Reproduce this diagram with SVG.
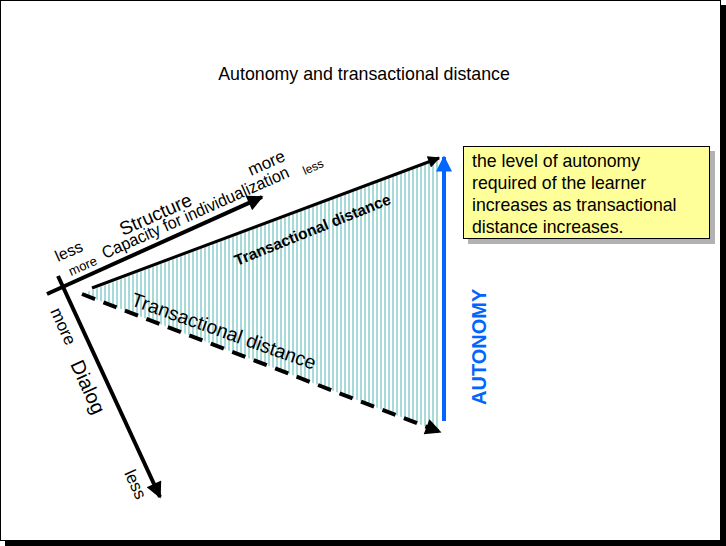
<svg xmlns="http://www.w3.org/2000/svg" width="726" height="546" viewBox="0 0 726 546">
<style>
text{font-family:"Liberation Sans",Arial,sans-serif;fill:#000}
.ax{stroke:#000;stroke-width:4;fill:none}
</style>
<defs>
<pattern id="hatch" patternUnits="userSpaceOnUse" width="4" height="4">
<rect x="0" y="0" width="2" height="4" fill="#A8DADA"/>
</pattern>
<marker id="ah" viewBox="0 0 10 10" refX="9" refY="5" markerWidth="4.5" markerHeight="4" orient="auto" markerUnits="strokeWidth">
<path d="M0,0 L10,5 L0,10 Z" fill="#000"/>
</marker>
<marker id="ahb" viewBox="0 0 10 10" refX="9" refY="5" markerWidth="5" markerHeight="4" orient="auto" markerUnits="strokeWidth">
<path d="M0,0 L10,5 L0,10 Z" fill="#0066FF"/>
</marker>
</defs>
<rect x="5" y="5" width="721" height="541" fill="#000"/>
<rect x="0.5" y="0.5" width="720" height="540" fill="#fff" stroke="#000" stroke-width="1"/>
<text x="364" y="80" font-size="17.8" text-anchor="middle">Autonomy and transactional distance</text>
<g id="triangle">
<polygon points="82,294 440,158 440,432" fill="url(#hatch)"/>
</g>
<g id="connectors">
<line class="ax" x1="47" y1="294" x2="262" y2="197" marker-end="url(#ah)"/>
<line class="ax" x1="58" y1="276" x2="160" y2="497" marker-end="url(#ah)"/>
<line x1="92" y1="288" x2="439" y2="158" stroke="#000" stroke-width="3" marker-end="url(#ah)"/>
<line x1="82" y1="294" x2="440" y2="432" stroke="#000" stroke-width="4" stroke-dasharray="14,9" marker-end="url(#ah)"/>
<line x1="444" y1="421" x2="444" y2="157" stroke="#0066FF" stroke-width="4" marker-end="url(#ahb)"/>
</g>
<g id="structure-labels">
<text transform="translate(58,262) rotate(-24)" font-size="16">less</text>
<text transform="translate(71,276) rotate(-24)" font-size="13">more</text>
<text transform="translate(123,236) rotate(-24)" font-size="19">Structure</text>
<text transform="translate(105,259) rotate(-24)" font-size="17" textLength="203" lengthAdjust="spacingAndGlyphs">Capacity for individualization</text>
<text transform="translate(251,176) rotate(-24)" font-size="17">more</text>
<text transform="translate(305,175) rotate(-24)" font-size="12">less</text>
</g>
<g id="dialog-labels">
<text transform="translate(50,311) rotate(65.5)" font-size="17">more</text>
<text transform="translate(70,364) rotate(65.5)" font-size="20">Dialog</text>
<text transform="translate(124,473) rotate(65.5)" font-size="17">less</text>
</g>
<g id="td-labels">
<text transform="translate(237,266) rotate(-22)" font-size="15.5" font-weight="bold">Transactional distance</text>
<text transform="translate(130,305) rotate(19.5)" font-size="19.5">Transactional distance</text>
</g>
<g id="autonomy">
<text transform="translate(486,405) rotate(-90)" font-size="20" font-weight="bold" style="fill:#0066FF">AUTONOMY</text>
</g>
<g id="note">
<rect x="468" y="151" width="247" height="93" fill="#B2B2B2"/>
<rect x="463.5" y="146.5" width="246" height="92" fill="#FFFF99" stroke="#000" stroke-width="1"/>
<text x="472" font-size="17.7"><tspan x="472" y="167">the level of autonomy</tspan><tspan x="472" y="189">required of the learner</tspan><tspan x="472" y="211">increases as transactional</tspan><tspan x="472" y="233">distance increases.</tspan></text>
</g>
</svg>
